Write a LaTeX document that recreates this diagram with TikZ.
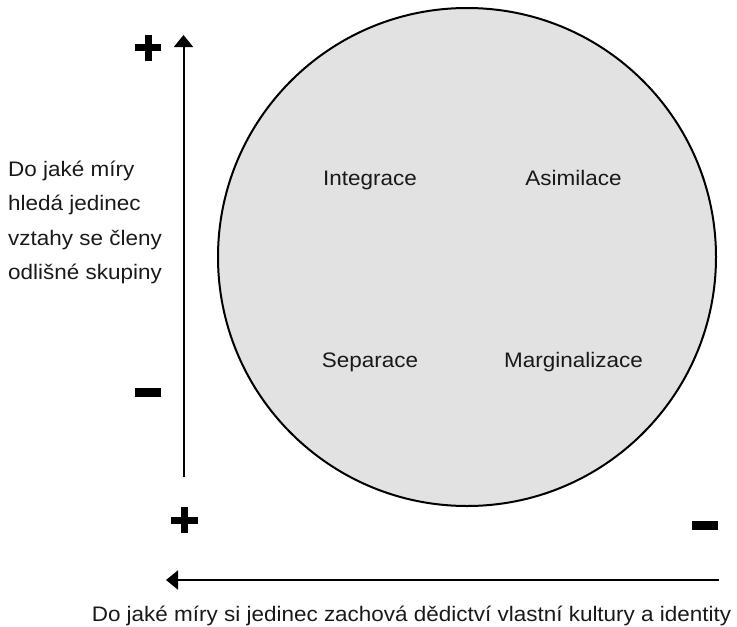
\documentclass[tikz,border=0pt]{standalone}
\usepackage{fontspec}
\setmainfont[FakeStretch=1.07]{Liberation Sans}
\usetikzlibrary{arrows.meta}
\definecolor{circfill}{RGB}{226,226,226}
\tikzset{
  lbl/.style={inner sep=0pt, font=\fontsize{21}{24}\selectfont, text=black!90},
  axis/.style={line width=2pt, -{Triangle[length=12pt,width=19pt]}},
  sign/.style={fill=black}
}
\begin{document}
\begin{tikzpicture}[x=1pt,y=-1pt]
\useasboundingbox (0,0) rectangle (737,627);
% circle
\node[circle, draw=black, line width=2pt, fill=circfill, minimum size=498pt, inner sep=0pt] (circ) at (467,257) {};
% quadrant labels
\node[lbl, anchor=base] (integ) at (370,185) {Integrace};
\node[lbl, anchor=base] (asim) at (573.5,185) {Asimilace};
\node[lbl, anchor=base] (sep) at (370,367) {Separace};
\node[lbl, anchor=base] (marg) at (573.5,367) {Marginalizace};
% axes
\coordinate (vbot) at (183.5,477);
\coordinate (vtop) at (183.5,35);
\coordinate (hright) at (719,580);
\coordinate (hleft) at (166,580);
\draw[axis] (vbot) -- (vtop);
\draw[axis] (hright) -- (hleft);
% plus / minus signs
\fill[sign] (135,44) rectangle (161,51);
\fill[sign] (144.5,34.5) rectangle (151.5,60.5);
\fill[sign] (135,387.7) rectangle (161,396.7);
\fill[sign] (171,516.5) rectangle (197.5,523.5);
\fill[sign] (180.7,507) rectangle (187.7,533);
\fill[sign] (692,521) rectangle (718,529.7);
% left text
\node[lbl, anchor=base west] (l1) at (8,176) {Do jaké míry};
\node[lbl, anchor=base west] (l2) at (8,210.5) {hledá jedinec};
\node[lbl, anchor=base west] (l3) at (8,245) {vztahy se členy};
\node[lbl, anchor=base west] (l4) at (8,279.5) {odlišné skupiny};
% bottom text
\node[lbl, anchor=base] (bottom) at (411.5,621) {Do jaké míry si jedinec zachová dědictví vlastní kultury a identity};
\end{tikzpicture}
\end{document}
